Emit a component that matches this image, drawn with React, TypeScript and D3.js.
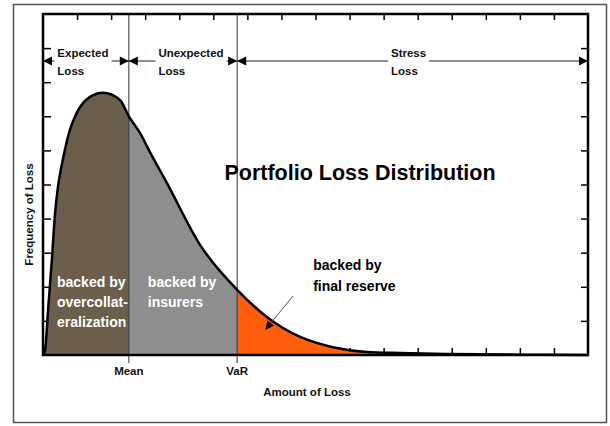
import React, { useRef, useEffect } from "react";
import * as d3 from "d3";

// loss amount (in grid units) and frequency
const lossAmount = [0, 0.06, 0.16, 0.26, 0.35, 0.44, 0.55, 0.65, 0.79, 0.99, 1.38, 1.76, 2.26, 2.52, 2.85, 3.14, 3.64, 4.61, 5.7, 6.58, 7.55, 8.51, 9.51, 10.48, 11.95, 14, 16];
const lossFrequency = [0, 0.15, 1.47, 2.79, 4.11, 4.94, 5.57, 6.05, 6.6, 7.1, 7.57, 7.69, 7.48, 7.0, 6.51, 5.95, 5.04, 3.23, 1.91, 1.11, 0.53, 0.23, 0.09, 0.06, 0.03, 0.01, 0];

const markerNames = ["Mean", "VaR"];
const markerValues = [2.52, 5.7];

const zoneNames = [["Expected", "Loss"], ["Unexpected", "Loss"], ["Stress", "Loss"]];
const regionLabels = [
    ["backed by", "overcollat-", "eralization"],
    ["backed by", "insurers"],
    ["backed by", "final reserve"],
];

const xTicks = d3.range(1, 16);
const yTicks = d3.range(1, 10);

const W = 610;
const H = 426;
const FONT = "'Liberation Sans', Arial, sans-serif";

const LossChart: React.FC = () => {
    const svgRef = useRef<SVGSVGElement | null>(null);

    useEffect(() => {
        if (!svgRef.current) return;
        const svg = d3.select(svgRef.current);
        svg.selectAll("*").remove();

        const x = d3.scaleLinear().domain([0, 16]).range([43, 588]);
        const y = d3.scaleLinear().domain([0, 10]).range([355, 14]);

        const pts: [number, number][] = lossAmount.map((a, i) => [a, lossFrequency[i]]);
        const bounds = [0, markerValues[0], markerValues[1], 16];
        const fills = ["#6b5e4b", "#8e8e8e", "#ff5e0e"];

        // outer box
        svg.append("rect")
            .attr("x", 13.5).attr("y", 4.5)
            .attr("width", 593).attr("height", 418)
            .attr("fill", "#fff")
            .attr("stroke", "#555")
            .attr("stroke-width", 1.5);

        // -----------------------------
        // ticks (inward)
        // -----------------------------
        const tickStyle = (g: any) => {
            g.select(".domain").remove();
            g.selectAll("line").attr("stroke", "#000").attr("stroke-width", 1.5);
            g.selectAll("text").remove();
        };
        svg.append("g").attr("transform", `translate(0,${y(10)})`)
            .call(d3.axisTop(x).tickValues(xTicks).tickSize(-6).tickSizeOuter(0)).call(tickStyle);
        svg.append("g").attr("transform", `translate(0,${y(0)})`)
            .call(d3.axisBottom(x).tickValues(xTicks).tickSize(-7).tickSizeOuter(0)).call(tickStyle);
        svg.append("g").attr("transform", `translate(${x(0)},0)`)
            .call(d3.axisLeft(y).tickValues(yTicks).tickSize(-8).tickSizeOuter(0)).call(tickStyle);
        svg.append("g").attr("transform", `translate(${x(16)},0)`)
            .call(d3.axisRight(y).tickValues(yTicks).tickSize(-7).tickSizeOuter(0)).call(tickStyle);

        // -----------------------------
        // filled regions
        // -----------------------------
        const area = d3.area<[number, number]>()
            .x(d => x(d[0])).y0(y(0)).y1(d => y(d[1]))
            .curve(d3.curveMonotoneX);
        const defs = svg.append("defs");
        fills.forEach((c, i) => {
            defs.append("clipPath").attr("id", `zone${i}`)
                .append("rect")
                .attr("x", x(bounds[i])).attr("y", 0)
                .attr("width", x(bounds[i + 1]) - x(bounds[i])).attr("height", H);
            svg.append("path")
                .datum(pts)
                .attr("d", area)
                .attr("fill", c)
                .attr("clip-path", `url(#zone${i})`);
        });

        // marker lines
        markerValues.forEach((v, i) => {
            svg.append("line")
                .attr("x1", x(v)).attr("x2", x(v))
                .attr("y1", y(10)).attr("y2", y(0) + 8)
                .attr("stroke", "#333").attr("stroke-width", 1);
            svg.append("text")
                .attr("x", x(v)).attr("y", 375)
                .attr("text-anchor", "middle")
                .attr("font-family", FONT).attr("font-size", 11.5).attr("font-weight", "bold")
                .attr("fill", "#111")
                .text(markerNames[i]);
        });

        // curve
        const line = d3.line<[number, number]>()
            .x(d => x(d[0])).y(d => y(d[1]))
            .curve(d3.curveMonotoneX);
        svg.append("path")
            .datum(pts)
            .attr("d", line)
            .attr("fill", "none")
            .attr("stroke", "#000")
            .attr("stroke-width", 2.5);

        // frame
        svg.append("rect")
            .attr("x", x(0)).attr("y", y(10))
            .attr("width", x(16) - x(0)).attr("height", y(0) - y(10))
            .attr("fill", "none")
            .attr("stroke", "#000")
            .attr("stroke-width", 2.5);

        // -----------------------------
        // zone arrows along the top
        // -----------------------------
        const ay = 61;
        const head = (tip: number, dir: number) =>
            `M${tip},${ay} L${tip - dir * 9},${ay - 4.5} L${tip - dir * 9},${ay + 4.5} Z`;
        zoneNames.forEach((lines, i) => {
            const x0 = x(bounds[i]);
            const x1 = x(bounds[i + 1]);
            const g = svg.append("g");
            g.append("line")
                .attr("x1", x0).attr("x2", x1)
                .attr("y1", ay).attr("y2", ay)
                .attr("stroke", "#222").attr("stroke-width", 1.2);
            const t = g.append("text")
                .attr("font-family", FONT).attr("font-size", 11.5).attr("font-weight", "bold")
                .attr("fill", "#111");
            t.append("tspan").attr("y", 57).text(lines[0]);
            t.append("tspan").attr("y", 75).text(lines[1]);
            const w = (t.select("tspan").node() as SVGTextContentElement).getComputedTextLength();
            const nudge = [-3, 8, -4][i];
            const tx = (x0 + x1) / 2 - w / 2 + nudge;
            t.selectAll("tspan").attr("x", tx);
            g.insert("rect", "text")
                .attr("x", tx - 3).attr("y", 46)
                .attr("width", w + 6).attr("height", 32)
                .attr("fill", "#fff");
            g.append("path").attr("d", head(x0, -1)).attr("fill", "#000");
            g.append("path").attr("d", head(x1, 1)).attr("fill", "#000");
        });

        // -----------------------------
        // texts
        // -----------------------------
        svg.append("text")
            .attr("x", 360).attr("y", 180)
            .attr("text-anchor", "middle")
            .attr("font-family", FONT).attr("font-size", 21.5).attr("font-weight", "bold")
            .attr("fill", "#000")
            .text("Portfolio Loss Distribution");

        svg.append("text")
            .attr("transform", `translate(33,${(y(0) + y(10)) / 2 + 30}) rotate(-90)`)
            .attr("text-anchor", "middle")
            .attr("font-family", FONT).attr("font-size", 11.5).attr("font-weight", "bold")
            .attr("fill", "#111")
            .text("Frequency of Loss");

        svg.append("text")
            .attr("x", 307).attr("y", 396)
            .attr("text-anchor", "middle")
            .attr("font-family", FONT).attr("font-size", 11.5).attr("font-weight", "bold")
            .attr("fill", "#111")
            .text("Amount of Loss");

        const labelPos: [number, number, string][] = [
            [x(0) + 14, 287, "#fff"],
            [x(markerValues[0]) + 19, 287, "#fff"],
            [x(markerValues[1]) + 76, 270, "#000"],
        ];
        regionLabels.forEach((lines, i) => {
            const [lx, ly, col] = labelPos[i];
            const t = svg.append("text")
                .attr("font-family", FONT).attr("font-size", 14).attr("font-weight", "bold")
                .attr("fill", col);
            lines.forEach((l, j) => {
                t.append("tspan").attr("x", lx).attr("y", ly + j * (i === 2 ? 21 : 20)).text(l);
            });
        });

        // pointer to the orange tail
        const px0 = 293, py0 = 296;
        const px1 = x(6.52), py1 = y(0.73);
        svg.append("line")
            .attr("x1", px0).attr("y1", py0).attr("x2", px1 + 4).attr("y2", py1 - 5)
            .attr("stroke", "#555").attr("stroke-width", 1);
        const ang = Math.atan2(py1 - py0, px1 - px0);
        const hl = 9, hw = 4;
        const bx = px1 - hl * Math.cos(ang), by = py1 - hl * Math.sin(ang);
        svg.append("path")
            .attr("d", `M${px1},${py1} L${bx + hw * Math.sin(ang)},${by - hw * Math.cos(ang)} L${bx - hw * Math.sin(ang)},${by + hw * Math.cos(ang)} Z`)
            .attr("fill", "#000");
    }, []);

    return <svg ref={svgRef} width={W} height={H} style={{ position: "absolute", left: 0, top: 0, background: "#fff" }} />;
};

export default function App() {
    return <LossChart />;
}
